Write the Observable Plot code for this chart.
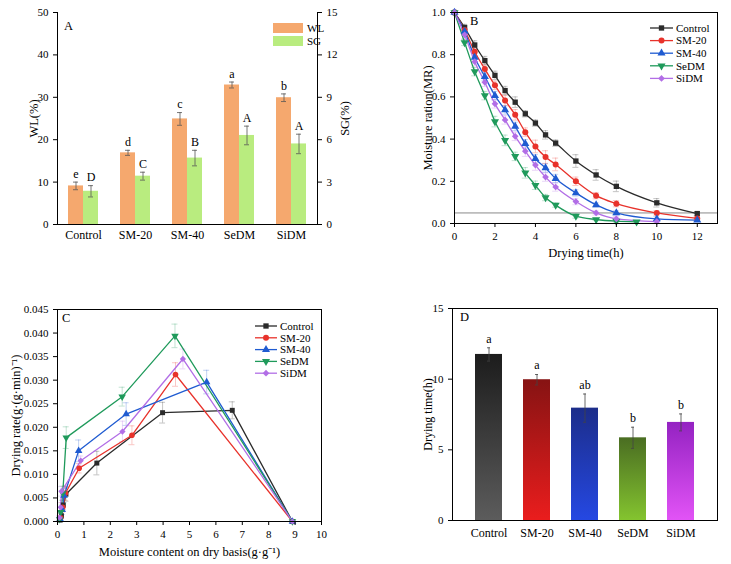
<!DOCTYPE html>
<html><head><meta charset="utf-8">
<script src="https://cdn.jsdelivr.net/npm/d3@7"></script>
<script src="https://cdn.jsdelivr.net/npm/@observablehq/plot@0.6"></script>
<style>
body{margin:0;background:#fff;}
#wrap{position:relative;width:731px;height:564px;overflow:hidden;background:#fff;}
#wrap > svg{position:absolute;}
</style></head><body><div id="wrap"></div>
<script>
// ---------- shared ----------
const groups = ["Control","SM-20","SM-40","SeDM","SiDM"];
const seriesColors = ["#2b2b2b","#e8322b","#1f5bd1","#1f9a5b","#b26ee6"];

// ---------- Panel A ----------
const wlValues = [9.1,16.9,24.9,32.9,29.9];
const wlErr = [0.9,0.6,1.5,0.7,0.9];
const wlLetters = ["e","d","c","a","b"];
const sgValues = [2.35,3.42,4.7,6.3,5.7];
const sgErr = [0.4,0.28,0.55,0.66,0.69];
const sgLetters = ["D","C","B","A","A"];
const wlTicks = [0,10,20,30,40,50];

// ---------- Panel B ----------
const timesB = [0,0.5,1,1.5,2,2.5,3,3.5,4,4.5,5,6,7,8,10,12];
const timesSeDM = [0,0.5,1,1.5,2,2.5,3,3.5,4,4.5,5,6,7,8,9];
const timesSiDM = [0,0.5,1,1.5,2,2.5,3,3.5,4,4.5,5,6,7,8,10];
const mrControl = [1,0.929,0.846,0.772,0.702,0.63,0.575,0.52,0.476,0.42,0.381,0.296,0.23,0.176,0.098,0.047];
const mrSM20 = [1,0.917,0.814,0.732,0.655,0.583,0.515,0.433,0.365,0.315,0.28,0.2,0.132,0.094,0.05,0.024];
const mrSM40 = [1,0.91,0.787,0.696,0.606,0.538,0.46,0.378,0.307,0.263,0.213,0.145,0.088,0.05,0.022,0.016];
const mrSeDM = [1,0.858,0.72,0.606,0.483,0.394,0.318,0.24,0.181,0.123,0.087,0.035,0.019,0.011,0.008];
const mrSiDM = [1,0.894,0.767,0.669,0.567,0.491,0.413,0.343,0.277,0.22,0.173,0.104,0.05,0.022,0.009];
const mrErrControl = [0,0.015,0.02,0.02,0.02,0.02,0.025,0.015,0.015,0.02,0.015,0.03,0.025,0.025,0.02,0.01];
const mrErrSM20 = [0,0.02,0.02,0.02,0.02,0.025,0.025,0.02,0.03,0.03,0.03,0.02,0.015,0.015,0.01,0.01];
const mrErrSM40 = [0,0.015,0.02,0.02,0.02,0.02,0.02,0.02,0.02,0.02,0.02,0.015,0.01,0.01,0.01,0.005];
const mrErrSeDM = [0,0.015,0.02,0.02,0.025,0.025,0.02,0.025,0.02,0.015,0.01,0.01,0.005,0.005,0.005];
const mrErrSiDM = [0,0.02,0.02,0.02,0.02,0.02,0.02,0.025,0.025,0.02,0.02,0.015,0.01,0.01,0.005];
const mrThreshold = [0.05];

// ---------- Panel C ----------
const mcControl = [8.9,6.62,3.98,1.49,0.32,0.22,0.15,0.1];
const drControl = [0,0.0236,0.0231,0.0124,0.0058,0.0035,0.0012,0.0003];
const deControl = [0,0.0018,0.0022,0.0025,0.0015,0.001,0.0005,0.0003];
const mcSM20 = [8.9,4.47,2.82,0.82,0.3,0.2,0.12];
const drSM20 = [0,0.0312,0.0183,0.0113,0.006,0.003,0.0008];
const deSM20 = [0,0.0025,0.002,0.001,0.0015,0.001,0.0005];
const mcSM40 = [8.9,5.65,2.6,0.8,0.25,0.18,0.1];
const drSM40 = [0,0.0296,0.0228,0.015,0.0055,0.0025,0.0005];
const deSM40 = [0,0.0025,0.0024,0.0023,0.0015,0.001,0.0005];
const mcSeDM = [8.9,4.45,2.45,0.33,0.2,0.12,0.08];
const drSeDM = [0,0.0394,0.0265,0.0178,0.006,0.002,0.0005];
const deSeDM = [0,0.0025,0.002,0.0023,0.0015,0.001,0.0004];
const mcSiDM = [8.9,4.75,2.46,0.88,0.15,0.12,0.08];
const drSiDM = [0,0.0345,0.0191,0.0129,0.0064,0.003,0.0008];
const deSiDM = [0,0.0021,0.0022,0.001,0.001,0.001,0.0005];

// ---------- Panel D ----------
const dtValues = [11.75,9.96,7.95,5.85,6.94];
const dtErr = [0.47,0.37,1.0,0.75,0.6];
const dtLetters = ["a","a","ab","b","b"];
const gradTop = ["#1c1c1c","#861313","#1c2d8a","#4a6d22","#9422c2"];
const gradBottom = ["#5c5c5c","#ea1d1d","#2548e2","#84c42f","#e253f6"];

// ---------- helpers ----------
const serif = "'Liberation Serif','Times New Roman',serif";
const triDown = {draw(ctx, size){ const k = Math.sqrt(size/(Math.sqrt(3)*3)); ctx.moveTo(0,2*k); ctx.lineTo(-Math.sqrt(3)*k,-k); ctx.lineTo(Math.sqrt(3)*k,-k); ctx.closePath(); }};
const symbolsPlot = ["square","circle","triangle",triDown,"diamond2"];
const symbolsD3 = [d3.symbolSquare,d3.symbolCircle,d3.symbolTriangle,triDown,d3.symbolDiamond2];
const styleBase = {fontFamily:serif, fontSize:"11px", color:"#000", background:"transparent", overflow:"visible"};
const titleOpts = {text:d=>d, textAnchor:"middle", lineAnchor:"middle", fontSize:12.5};
const wrap = document.getElementById("wrap");
function place(svg, left, top){ svg.style.left = left+"px"; svg.style.top = top+"px"; wrap.appendChild(svg); }
function lineLegend(svg, x0, y0, step, len){
  const g = d3.select(svg).append("g").attr("font-family",serif).attr("font-size",11).attr("text-anchor","start");
  groups.forEach((name,i)=>{
    const y = y0 + i*step;
    g.append("line").attr("x1",x0).attr("x2",x0+len).attr("y1",y).attr("y2",y).attr("stroke",seriesColors[i]).attr("stroke-width",1.3);
    g.append("path").attr("transform",`translate(${x0+len/2},${y})`).attr("d",d3.symbol(symbolsD3[i], Math.PI*9)()).attr("fill",seriesColors[i]);
    g.append("text").attr("x",x0+len+3).attr("y",y).attr("dy","0.35em").attr("fill","#000").text(name);
  });
}
function panelLetter(svg, x, y, t){
  d3.select(svg).append("text").attr("x",x).attr("y",y).attr("text-anchor","start").attr("font-family",serif).attr("font-size",12.5).attr("fill","#000").text(t);
}

// ---------- Panel A ----------
const rowsA = groups.flatMap((g,i)=>[
  {g, s:"WL", v:wlValues[i], e:wlErr[i], lab:wlLetters[i]},
  {g, s:"SG", v:sgValues[i]*50/15, e:sgErr[i]*50/15, lab:sgLetters[i]}
]);
const errStyleA = {stroke:"#555", strokeWidth:0.8};
const plotA = Plot.plot({
  width:365, height:260, marginLeft:56, marginRight:47, marginTop:12, marginBottom:36,
  style:styleBase,
  fx:{domain:groups, padding:0},
  x:{domain:["WL","SG"], paddingInner:0, paddingOuter:0.64, axis:null},
  y:{domain:[0,50]},
  color:{domain:["WL","SG"], range:["#f5a86e","#b9ec7f"]},
  marks:[
    Plot.barY(rowsA,{fx:"g", x:"s", y:"v", fill:"s"}),
    Plot.ruleX(rowsA,{fx:"g", x:"s", y1:d=>d.v-d.e, y2:d=>d.v+d.e, ...errStyleA}),
    Plot.tickY(rowsA,{fx:"g", x:"s", y:d=>d.v-d.e, insetLeft:5, insetRight:5, ...errStyleA}),
    Plot.tickY(rowsA,{fx:"g", x:"s", y:d=>d.v+d.e, insetLeft:5, insetRight:5, ...errStyleA}),
    Plot.text(rowsA,{fx:"g", x:"s", y:d=>d.v+d.e, text:"lab", dy:-8, fontSize:12}),
    Plot.axisY({anchor:"left", ticks:wlTicks, tickSize:4, label:null, fontSize:11}),
    Plot.axisY({anchor:"right", ticks:wlTicks, tickSize:4, tickFormat:d=>d*15/50, label:null, fontSize:11}),
    Plot.axisFx({anchor:"bottom", tickSize:0, tickPadding:6, label:null, fontSize:12}),
    Plot.text(["WL(%)"],{...titleOpts, frameAnchor:"left", facetAnchor:"left", rotate:-90, dx:-24}),
    Plot.text(["SG(%)"],{...titleOpts, frameAnchor:"right", facetAnchor:"right", rotate:-90, dx:27}),
    Plot.frame({anchor:"bottom"}),
    Plot.frame({anchor:"left", facetAnchor:"left"}),
    Plot.frame({anchor:"right", facetAnchor:"right"})
  ]
});
place(plotA, 0, 0);
{
  const g = d3.select(plotA).append("g").attr("font-family",serif).attr("font-size",11).attr("text-anchor","start");
  [["WL","#f5a86e",28],["SG","#b9ec7f",41]].forEach(([n,c,y])=>{
    g.append("rect").attr("x",273).attr("y",y-5).attr("width",30).attr("height",10).attr("fill",c);
    g.append("text").attr("x",307).attr("y",y).attr("dy","0.35em").text(n);
  });
  panelLetter(plotA, 64, 30, "A");
}

// ---------- Panel B ----------
const mrSeries = [mrControl,mrSM20,mrSM40,mrSeDM,mrSiDM];
const mrErrSeries = [mrErrControl,mrErrSM20,mrErrSM40,mrErrSeDM,mrErrSiDM];
const mrTimes = [timesB,timesB,timesB,timesSeDM,timesSiDM];
const rowsB = groups.flatMap((g,i)=>mrSeries[i].map((v,j)=>({g, t:mrTimes[i][j], v, e:mrErrSeries[i][j]})));
const plotB = Plot.plot({
  width:366, height:260, marginLeft:89, marginRight:14, marginTop:12, marginBottom:37,
  style:styleBase,
  x:{domain:[0,13]},
  y:{domain:[0,1]},
  color:{domain:groups, range:seriesColors},
  marks:[
    Plot.ruleY(mrThreshold,{stroke:"#8a8a8a", strokeWidth:1}),
    Plot.ruleX(rowsB.filter(d=>d.e>0),{x:"t", y1:d=>d.v-d.e, y2:d=>d.v+d.e, stroke:"g", strokeOpacity:0.35, strokeWidth:0.8}),
    Plot.ruleY(rowsB.filter(d=>d.e>0),{y:d=>d.v+d.e, x1:"t", x2:"t", insetLeft:-3, insetRight:-3, stroke:"g", strokeOpacity:0.35, strokeWidth:0.8}),
    Plot.ruleY(rowsB.filter(d=>d.e>0),{y:d=>d.v-d.e, x1:"t", x2:"t", insetLeft:-3, insetRight:-3, stroke:"g", strokeOpacity:0.35, strokeWidth:0.8}),
    Plot.line(rowsB,{x:"t", y:"v", z:"g", stroke:"g", curve:"monotone-x", strokeWidth:1.3}),
    ...groups.map((name,i)=>Plot.dot(rowsB.filter(d=>d.g===name),{x:"t", y:"v", fill:"g", r:3, symbol:symbolsPlot[i]})),
    Plot.axisY({ticks:[0,0.2,0.4,0.6,0.8,1], tickFormat:".1f", tickSize:4, label:null, fontSize:11}),
    Plot.axisX({ticks:[0,2,4,6,8,10,12], tickSize:4, label:null, fontSize:11}),
    Plot.text(["Moisture ration(MR)"],{...titleOpts, frameAnchor:"left", rotate:-90, dx:-27}),
    Plot.text(["Drying time(h)"],{...titleOpts, frameAnchor:"bottom", dy:29}),
    Plot.frame()
  ]
});
place(plotB, 365, 0);
lineLegend(plotB, 285, 28, 12.6, 23);
panelLetter(plotB, 105, 25, "B");

// ---------- Panel C ----------
const mcSeries = [mcControl,mcSM20,mcSM40,mcSeDM,mcSiDM];
const drSeries = [drControl,drSM20,drSM40,drSeDM,drSiDM];
const deSeries = [deControl,deSM20,deSM40,deSeDM,deSiDM];
const rowsC = groups.flatMap((g,i)=>mcSeries[i].map((x,j)=>({g, x, v:drSeries[i][j], e:deSeries[i][j]})));
const plotC = Plot.plot({
  width:365, height:274, marginLeft:57, marginRight:44, marginTop:19, marginBottom:43,
  style:styleBase,
  x:{domain:[0,10]},
  y:{domain:[0,0.045]},
  color:{domain:groups, range:seriesColors},
  marks:[
    Plot.ruleX(rowsC.filter(d=>d.e>0),{x:"x", y1:d=>d.v-d.e, y2:d=>d.v+d.e, stroke:"g", strokeOpacity:0.35, strokeWidth:0.8}),
    Plot.ruleY(rowsC.filter(d=>d.e>0),{y:d=>d.v+d.e, x1:"x", x2:"x", insetLeft:-3, insetRight:-3, stroke:"g", strokeOpacity:0.35, strokeWidth:0.8}),
    Plot.ruleY(rowsC.filter(d=>d.e>0),{y:d=>d.v-d.e, x1:"x", x2:"x", insetLeft:-3, insetRight:-3, stroke:"g", strokeOpacity:0.35, strokeWidth:0.8}),
    Plot.line(rowsC,{x:"x", y:"v", z:"g", stroke:"g", strokeWidth:1.3}),
    ...groups.map((name,i)=>Plot.dot(rowsC.filter(d=>d.g===name),{x:"x", y:"v", fill:"g", r:2.8, symbol:symbolsPlot[i]})),
    Plot.axisY({ticks:d3.range(0,0.0451,0.005), tickFormat:".3f", tickSize:4, label:null, fontSize:11}),
    Plot.axisX({ticks:d3.range(0,11,1), tickSize:4, label:null, fontSize:11}),
    Plot.text(["Drying rate(g·(g·min)⁻¹)"],{...titleOpts, frameAnchor:"left", rotate:-90, dx:-42}),
    Plot.text(["Moisture content on dry basis(g·g⁻¹)"],{...titleOpts, frameAnchor:"bottom", dy:30}),
    Plot.frame()
  ]
});
place(plotC, 0, 290);
lineLegend(plotC, 255, 36, 11.8, 22);
panelLetter(plotC, 62, 32, "C");

// ---------- Panel D ----------
const rowsD = groups.map((g,i)=>({g, i, v:dtValues[i], e:dtErr[i], lab:dtLetters[i]}));
const plotD = Plot.plot({
  width:366, height:274, marginLeft:87, marginRight:14, marginTop:18, marginBottom:44,
  style:styleBase,
  x:{domain:groups, padding:0.43},
  y:{domain:[0,15]},
  color:{type:"identity"},
  marks:[
    Plot.barY(rowsD,{x:"g", y:"v", fill:d=>`url(#dgrad${d.i})`}),
    Plot.ruleX(rowsD,{x:"g", y1:d=>d.v-d.e, y2:d=>d.v+d.e, stroke:"#444", strokeWidth:0.8}),
    Plot.tickY(rowsD,{x:"g", y:d=>d.v+d.e, insetLeft:12, insetRight:12, stroke:"#444", strokeWidth:0.8}),
    Plot.tickY(rowsD,{x:"g", y:d=>d.v-d.e, insetLeft:12, insetRight:12, stroke:"#444", strokeWidth:0.8}),
    Plot.text(rowsD,{x:"g", y:d=>d.v+d.e, text:"lab", dy:-9, fontSize:12}),
    Plot.axisY({ticks:[0,5,10,15], tickSize:4, label:null, fontSize:11}),
    Plot.axisX({tickSize:0, tickPadding:8, label:null, fontSize:12}),
    Plot.text(["Drying time(h)"],{...titleOpts, frameAnchor:"left", rotate:-90, dx:-24, fontSize:12}),
    Plot.frame()
  ]
});
{
  const defs = d3.select(plotD).insert("defs",":first-child");
  groups.forEach((g,i)=>{
    const lg = defs.append("linearGradient").attr("id",`dgrad${i}`).attr("x1",0).attr("y1",0).attr("x2",0).attr("y2",1);
    lg.append("stop").attr("offset","0%").attr("stop-color",gradTop[i]);
    lg.append("stop").attr("offset","100%").attr("stop-color",gradBottom[i]);
  });
}
place(plotD, 365, 290);
panelLetter(plotD, 95, 31, "D");
</script></body></html>
